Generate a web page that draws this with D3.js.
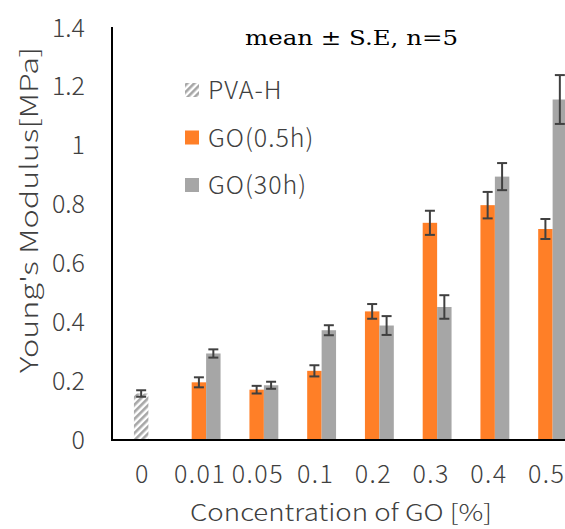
<!DOCTYPE html>
<html>
<head>
<meta charset="utf-8">
<script src="https://cdn.jsdelivr.net/npm/d3@7"></script>
<style>
  html, body { margin: 0; padding: 0; background: #fff; }
  svg { display: block; }
</style>
</head>
<body>
<svg id="chart" width="565" height="529"></svg>
<script>
// ---- data ----
const categories = ["0", "0.01", "0.05", "0.1", "0.2", "0.3", "0.4", "0.5"];
const pvaH = [0.158, null, null, null, null, null, null, null];
const pvaHErr = [0.011, null, null, null, null, null, null, null];
const go05 = [null, 0.196, 0.171, 0.235, 0.437, 0.738, 0.798, 0.717];
const go05Err = [null, 0.017, 0.013, 0.019, 0.025, 0.041, 0.045, 0.034];
const go30 = [null, 0.294, 0.186, 0.373, 0.389, 0.452, 0.895, 1.157];
const go30Err = [null, 0.014, 0.012, 0.017, 0.032, 0.040, 0.046, 0.083];
const yTicks = [0, 0.2, 0.4, 0.6, 0.8, 1, 1.2, 1.4];
const legendLabels = ["PVA-H", "GO(0.5h)", "GO(30h)"];
const titleText = "mean \u00B1 S.E, n=5";
const yTitle = "Young's Modulus[MPa]";
const xTitle = "Concentration of GO [%]";

// ---- setup ----
const svg = d3.select("#chart");
const sansFont = "'Noto Sans CJK JP', 'Noto Sans', sans-serif";
const textColor = "#404040";
const orange = "#FF7F27";
const gray = "#A6A6A6";
const errColor = "#404040";

const y = d3.scaleLinear().domain([0, 1.4]).range([440, 28]);
const x = d3.scaleBand().domain(categories)
  .range([119.5, 581.5]).paddingInner(0.5).paddingOuter(0.25);
const sub = d3.scaleBand().domain([0, 1]).range([0, x.bandwidth()]);

// hatch pattern
const defs = svg.append("defs");
const pat = defs.append("pattern").attr("id", "hatch")
  .attr("patternUnits", "userSpaceOnUse").attr("width", 5).attr("height", 5)
  .attr("patternTransform", "rotate(45)");
pat.append("rect").attr("width", 5).attr("height", 5).attr("fill", "#fff");
pat.append("rect").attr("x", 0).attr("y", 0).attr("width", 2.6).attr("height", 5).attr("fill", gray);

// series definitions (slot index inside each category)
const series = [
  { vals: pvaH, errs: pvaHErr, slot: 0, fill: "url(#hatch)" },
  { vals: go05, errs: go05Err, slot: 0, fill: orange },
  { vals: go30, errs: go30Err, slot: 1, fill: gray }
];

const plot = svg.append("g");
series.forEach(s => {
  const pts = categories.map((c, i) => ({ c, v: s.vals[i], e: s.errs[i] })).filter(d => d.v != null);
  plot.selectAll(null).data(pts).enter().append("rect")
    .attr("x", d => x(d.c) + sub(s.slot))
    .attr("y", d => y(d.v))
    .attr("width", sub.bandwidth())
    .attr("height", d => y(0) - y(d.v))
    .attr("fill", s.fill);
  const eg = plot.selectAll(null).data(pts).enter().append("g")
    .attr("stroke", errColor).attr("stroke-width", 2);
  const cx = d => x(d.c) + sub(s.slot) + sub.bandwidth() / 2;
  eg.append("line").attr("x1", cx).attr("x2", cx)
    .attr("y1", d => y(d.v + d.e)).attr("y2", d => y(d.v - d.e));
  eg.append("line").attr("x1", d => cx(d) - 5).attr("x2", d => cx(d) + 5)
    .attr("y1", d => y(d.v + d.e)).attr("y2", d => y(d.v + d.e));
  eg.append("line").attr("x1", d => cx(d) - 5).attr("x2", d => cx(d) + 5)
    .attr("y1", d => y(d.v - d.e)).attr("y2", d => y(d.v - d.e));
});

// y axis
const yAxis = svg.append("g").attr("transform", "translate(112,0)")
  .call(d3.axisLeft(y).tickValues(yTicks).tickSize(0).tickPadding(27)
    .tickFormat(d => d3.format("")(d)));
yAxis.select(".domain").attr("stroke", "#000").attr("stroke-width", 2)
  .attr("d", `M0,${y(1.4) - 1}V${y(0)}`);
yAxis.selectAll("text").attr("font-family", sansFont).attr("font-size", 25)
  .attr("font-weight", 300).attr("fill", textColor);

// x axis
const xAxis = svg.append("g").attr("transform", "translate(0,440)")
  .call(d3.axisBottom(x).tickSize(0).tickPadding(25));
xAxis.select(".domain").attr("stroke", "#000").attr("stroke-width", 2)
  .attr("d", "M111,0H565");
xAxis.selectAll("text").attr("font-family", sansFont).attr("font-size", 25)
  .attr("font-weight", 300).attr("letter-spacing", "1.5px")
  .attr("fill", textColor).attr("dx", -6);

// titles
svg.append("text").attr("x", 190).attr("y", 521)
  .attr("font-family", sansFont).attr("font-size", 23).attr("font-weight", 300)
  .attr("fill", textColor)
  .attr("textLength", 302).attr("lengthAdjust", "spacingAndGlyphs")
  .text(xTitle);
svg.append("text").attr("transform", "translate(38,373) rotate(-90)")
  .attr("font-family", sansFont).attr("font-size", 24).attr("font-weight", 300)
  .attr("fill", textColor)
  .attr("textLength", 326).attr("lengthAdjust", "spacingAndGlyphs")
  .text(yTitle);
svg.append("text").attr("x", 245).attr("y", 45)
  .attr("font-family", "'DejaVu Serif', 'Liberation Serif', serif").attr("font-size", 20)
  .attr("textLength", 213).attr("lengthAdjust", "spacingAndGlyphs")
  .attr("fill", "#000").text(titleText);

// legend
const legFills = ["url(#hatch)", orange, gray];
const leg = svg.append("g");
legendLabels.forEach((lab, i) => {
  const cy = 90 + i * 47.5;
  leg.append("rect").attr("x", 185).attr("y", cy - 7).attr("width", 14).attr("height", 14)
    .attr("fill", legFills[i]);
  leg.append("text").attr("x", 208).attr("y", cy).attr("dy", "0.36em")
    .attr("font-family", sansFont).attr("font-size", 25).attr("font-weight", 300)
    .attr("letter-spacing", "1px").attr("fill", textColor)
    .text(lab);
});
</script>
</body>
</html>
